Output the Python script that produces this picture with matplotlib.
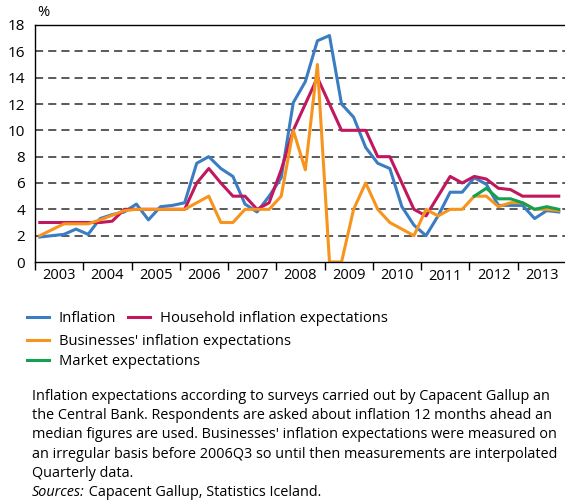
import matplotlib
matplotlib.use("Agg")
import matplotlib.pyplot as plt
import numpy as np

# quarterly data, 2003Q1 - 2013Q4
inflation = [1.9, 2.0, 2.1, 2.5, 2.1, 3.3, 3.6, 3.8, 4.4, 3.2, 4.2, 4.3,
             4.5, 7.5, 8.0, 7.1, 6.5, 4.4, 3.8, 5.0, 6.4, 12.1, 13.7, 16.8,
             17.2, 12.0, 11.0, 8.7, 7.5, 7.1, 4.2, 2.8, 2.0, 3.5, 5.3, 5.3,
             6.4, 5.9, 4.3, 4.3, 4.3, 3.3, 3.9, 3.8]
household = [3.0, 3.0, 3.0, 3.0, 3.0, 3.0, 3.1, 4.0, 4.0, 4.0, 4.0, 4.0,
             4.0, 6.0, 7.1, 6.0, 5.0, 5.0, 4.0, 4.5, 7.0, 10.0, 12.0, 14.0,
             12.0, 10.0, 10.0, 10.0, 8.0, 8.0, 6.0, 4.0, 3.5, 5.0, 6.5, 6.0,
             6.5, 6.3, 5.6, 5.5, 5.0, 5.0, 5.0, 5.0]
businesses = [2.0, 2.45, 2.9, 2.9, 2.9, 3.2, 3.55, 3.9, 4.0, 4.0, 4.0, 4.0,
              4.0, 4.5, 5.0, 3.0, 3.0, 4.0, 4.0, 4.0, 5.0, 10.0, 7.0, 15.0,
              0.0, 0.0, 4.0, 6.0, 4.0, 3.0, 2.5, 2.0, 4.0, 3.5, 4.0, 4.0,
              5.0, 5.0, 4.2, 4.5, 4.5, 4.0, 4.0, 3.9]
market = [5.0, 5.6, 4.8, 4.8, 4.5, 4.0, 4.2, 4.0]  # from 2012Q1
market_start = 36

years = list(range(2003, 2014))
yticks = [0, 2, 4, 6, 8, 10, 12, 14, 16, 18]

labels = ["Inflation", "Household inflation expectations",
          "Businesses' inflation expectations", "Market expectations"]
colors = ["#3a7dc2", "#c0175d", "#f7941d", "#13a04f"]

# the reference is cropped on the right, only the visible part is kept
notes = ["Inflation expectations according to surveys carried out by Capacent Gallup an",
         "the Central Bank. Respondents are asked about inflation 12 months ahead an",
         "median figures are used. Businesses' inflation expectations were measured on",
         "an irregular basis before 2006Q3 so until then measurements are interpolated",
         "Quarterly data."]
sources = "Capacent Gallup, Statistics Iceland."

plt.rcParams['font.family'] = ['Open Sans', 'DejaVu Sans']
fs = 10.6
fs_note = 10.35

fig = plt.figure(figsize=(5.65, 5.04), dpi=100)
ax = fig.add_axes([35 / 565, 1 - 262 / 504, 531 / 565, 237 / 504])

# quarter positions (slightly after the year boundary, as in the original)
x = years[0] + 0.1 + np.arange(len(inflation)) / 4
xm = x[market_start:market_start + len(market)]

lw = 2.2
l1, = ax.plot(x, inflation, color=colors[0], lw=lw)
l2, = ax.plot(x, household, color=colors[1], lw=lw)
l3, = ax.plot(x, businesses, color=colors[2], lw=lw)
l4, = ax.plot(xm, market, color=colors[3], lw=lw)

ax.set_xlim(years[0], years[-1] + 1)
ax.set_ylim(0, 18)
ax.set_yticks(yticks)
ax.tick_params(axis='y', length=0, pad=7, labelsize=11)
for v in yticks[1:-1]:
    ax.axhline(v, color='#4d4d4d', lw=1.3, dashes=(4.5, 2.8), zorder=0)

# year boundaries as ticks, year labels centred in between
ax.set_xticks(years + [years[-1] + 1])
ax.set_xticklabels([])
ax.tick_params(axis='x', length=6, width=1, direction='out', color='black')
trans = ax.get_xaxis_transform()
for yr in years:
    dy = -0.063 if yr == 2011 else -0.055
    ax.text(yr + 0.5, dy, str(yr), transform=trans, ha='center', va='center',
            fontsize=10.5)

for s in ['top', 'left', 'bottom']:
    ax.spines[s].set_linewidth(1.0)
    ax.spines[s].set_color('black')
ax.spines['right'].set_visible(False)

fig.text(37 / 565, 1 - 13 / 504, '%', fontsize=fs, va='center', ha='left')

leg_kw = dict(loc='upper left', frameon=False, fontsize=fs, handlelength=1.5,
              handletextpad=0.65, borderaxespad=0, borderpad=0)
fig.legend([l1, l2], labels[:2], ncol=2, columnspacing=0.8,
           bbox_to_anchor=(27 / 565, 1 - 311 / 504), **leg_kw)
fig.legend([l3, l4], labels[2:], ncol=1, labelspacing=0.35,
           bbox_to_anchor=(27 / 565, 1 - 334 / 504), **leg_kw)

# note lines, evenly spaced, last one is the sources line
for k, line in enumerate(notes):
    fig.text(32 / 565, 1 - (400 + 19.2 * k) / 504, line, fontsize=fs_note,
             va='baseline', ha='left')
src = fig.text(32 / 565, 1 - 496 / 504, "Sources:", fontsize=fs_note,
               style='italic', va='baseline', ha='left')
fig.canvas.draw()
bb = src.get_window_extent()
fig.text(bb.x1 / fig.bbox.width, 1 - 496 / 504, " " + sources,
         fontsize=fs_note, va='baseline', ha='left')

plt.savefig('out.png', dpi=100)
